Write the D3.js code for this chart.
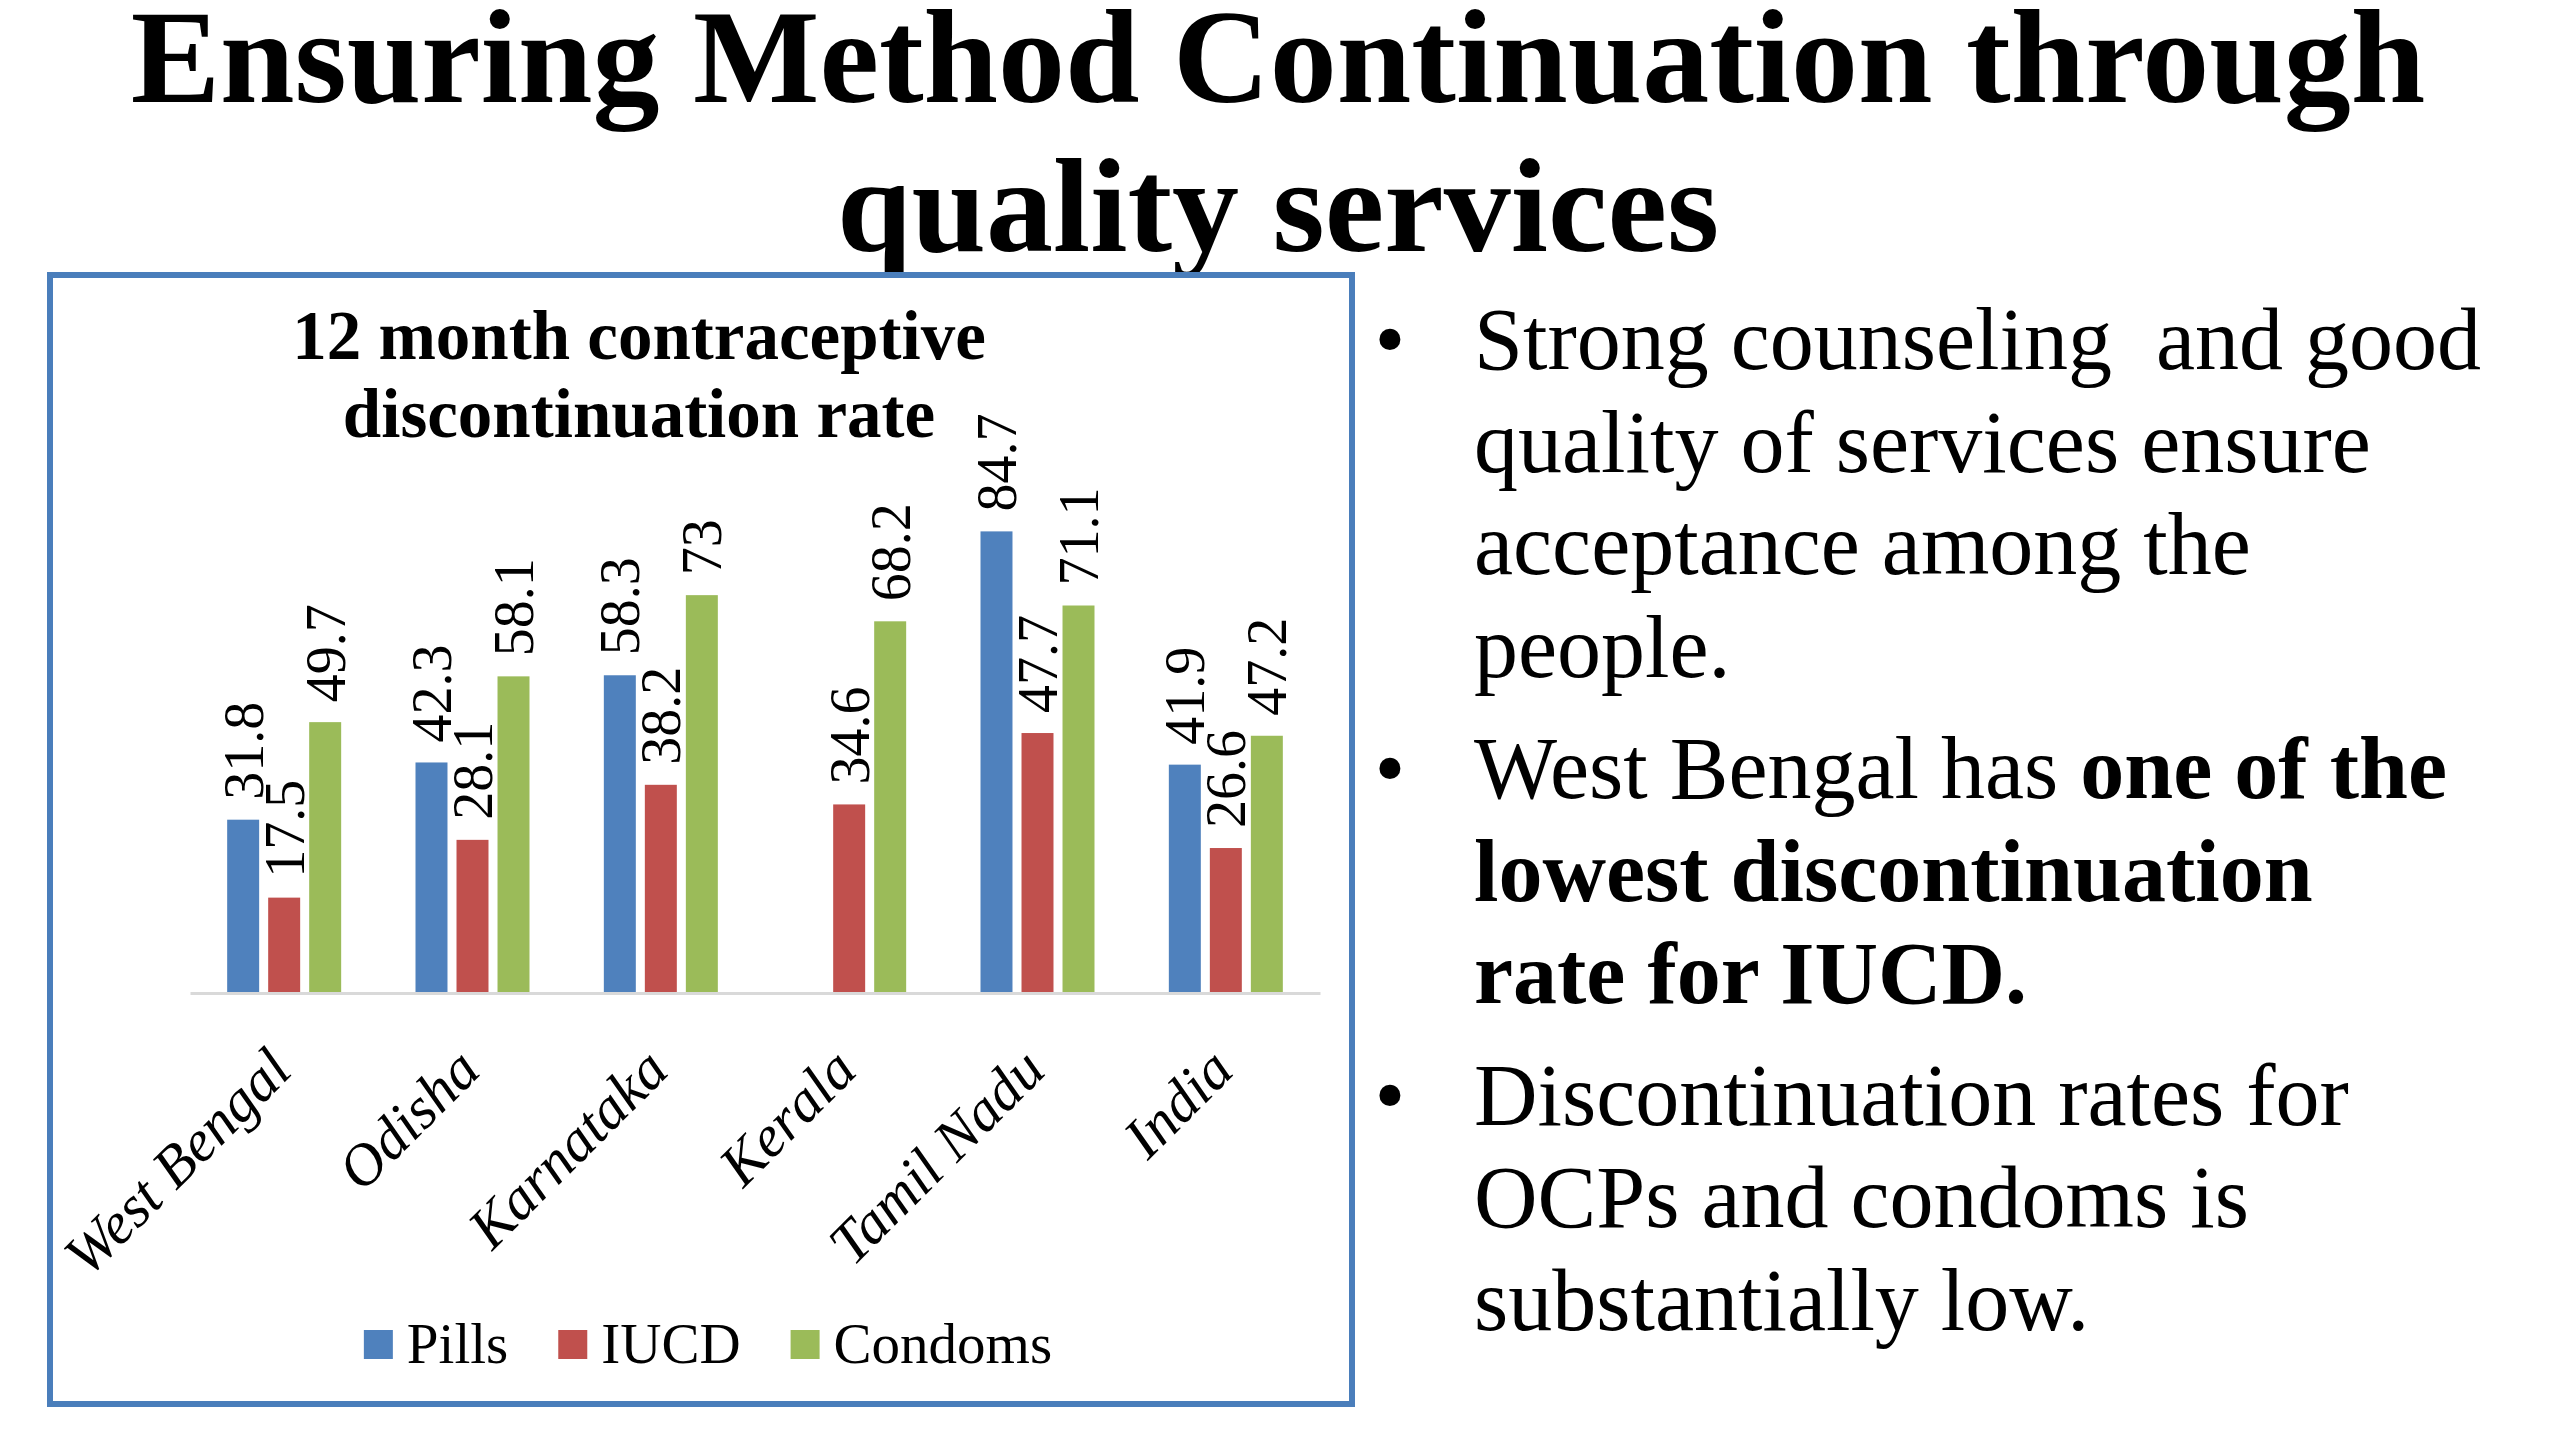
<!DOCTYPE html>
<html>
<head>
<meta charset="utf-8">
<script src="https://cdn.jsdelivr.net/npm/d3@7"></script>
<style>
  body { margin: 0; background: #fff; }
  svg { display: block; }
</style>
</head>
<body>
<svg id="slide"></svg>
<script>
// 12 month contraceptive discontinuation rate, by state
var categories = ['West Bengal', 'Odisha', 'Karnataka', 'Kerala', 'Tamil Nadu', 'India']
var seriesNames = ['Pills', 'IUCD', 'Condoms']
var pills = [31.8, 42.3, 58.3, null, 84.7, 41.9]
var iucd = [17.5, 28.1, 38.2, 34.6, 47.7, 26.6]
var condoms = [49.7, 58.1, 73, 68.2, 71.1, 47.2]
var seriesColors = ['#4F81BD', '#C0504D', '#9BBB59']

var titleLines = ['Ensuring Method Continuation through', 'quality services']
var chartTitleLines = ['12 month contraceptive', 'discontinuation rate']

// each bullet = lines, each line = [text, bold] pieces
var bullets = [
  [[['Strong counseling  and good', false]],
   [['quality of services ensure', false]],
   [['acceptance among the', false]],
   [['people.', false]]],
  [[['West Bengal has ', false], ['one of the', true]],
   [['lowest discontinuation', true]],
   [['rate for IUCD.', true]]],
  [[['Discontinuation rates for', false]],
   [['OCPs and condoms is', false]],
   [['substantially low.', false]]]
]

var width = 2560
var height = 1439
var serif = '"Liberation Serif", "Times New Roman", serif'

var svg = d3.select('#slide')
  .attr('width', width)
  .attr('height', height)

svg.append('rect')
  .attr('width', width)
  .attr('height', height)
  .attr('fill', '#fff')

// slide title
svg.selectAll('.title')
  .data(titleLines)
  .enter()
  .append('text')
    .classed('title', true)
    .attr('x', 1278)
    .attr('y', (d, i) => 102 + i * 149)
    .attr('text-anchor', 'middle')
    .style('font-family', serif)
    .style('font-weight', 'bold')
    .style('font-size', '134px')
    .attr('fill', '#000')
    .text(d => d)

// chart frame
svg.append('rect')
  .attr('x', 50)
  .attr('y', 275)
  .attr('width', 1302)
  .attr('height', 1129)
  .attr('fill', '#fff')
  .attr('stroke', '#4A7EBB')
  .attr('stroke-width', 6)

svg.selectAll('.chart-title')
  .data(chartTitleLines)
  .enter()
  .append('text')
    .classed('chart-title', true)
    .attr('x', 639)
    .attr('y', (d, i) => 359 + i * 78)
    .attr('text-anchor', 'middle')
    .style('font-family', serif)
    .style('font-weight', 'bold')
    .style('font-size', '69px')
    .text(d => d)

// scales
var baseY = 993
var x0 = d3.scaleBand()
  .domain(categories)
  .range([190, 1320])

var groupHalf = 57
var x1 = d3.scaleBand()
  .domain(seriesNames)
  .range([x0.bandwidth() / 2 - groupHalf, x0.bandwidth() / 2 + groupHalf])
  .paddingInner(0.22)

var y = d3.scaleLinear()
  .domain([0, 90])
  .range([baseY, baseY - 90 * 5.45])

var rows = categories.map((c, i) => ({
  cat: c,
  values: [pills[i], iucd[i], condoms[i]].map((v, j) => ({ series: seriesNames[j], value: v, color: seriesColors[j] }))
}))

var groups = svg.selectAll('.group')
  .data(rows)
  .enter()
  .append('g')
    .classed('group', true)
    .attr('transform', d => 'translate(' + x0(d.cat) + ',0)')

var bars = groups.selectAll('.bar')
  .data(d => d.values.filter(v => v.value != null))
  .enter()
  .append('g')
    .classed('bar', true)

bars.append('rect')
  .attr('x', d => x1(d.series))
  .attr('y', d => y(d.value))
  .attr('width', x1.bandwidth())
  .attr('height', d => baseY - y(d.value))
  .attr('fill', d => d.color)

bars.append('text')
  .attr('transform', d => 'translate(' + (x1(d.series) + x1.bandwidth() / 2) + ',' + (y(d.value) - 20) + ') rotate(-90)')
  .attr('dy', '0.35em')
  .style('font-family', serif)
  .style('font-size', '56px')
  .attr('fill', '#000')
  .text(d => d.value)

// category axis
var xAxis = d3.axisBottom(x0)
  .tickSize(0)
  .tickSizeOuter(0)

var axisG = svg.append('g')
  .attr('transform', 'translate(0,' + baseY + ')')
  .call(xAxis)

axisG.select('.domain')
  .attr('stroke', '#D9D9D9')
  .attr('stroke-width', 3)

axisG.selectAll('.tick text')
  .attr('y', 0)
  .attr('dy', 0)
  .attr('transform', 'translate(10,80) rotate(-45)')
  .attr('text-anchor', 'end')
  .attr('fill', '#000')
  .style('font-family', serif)
  .style('font-style', 'italic')
  .style('font-size', '59px')

// legend
var legend = svg.append('g')
var lx = 0
seriesNames.forEach((name, i) => {
  var item = legend.append('g').attr('transform', 'translate(' + lx + ',0)')
  item.append('rect')
    .attr('x', 0)
    .attr('y', -33)
    .attr('width', 29)
    .attr('height', 29)
    .attr('fill', seriesColors[i])
  var t = item.append('text')
    .attr('x', 43)
    .attr('y', 0)
    .style('font-family', serif)
    .style('font-size', '57px')
    .text(name)
  lx += 43 + t.node().getComputedTextLength() + 50
})
var legendW = lx - 50
legend.attr('transform', 'translate(' + (708 - legendW / 2) + ',1363)')

// bullet text on the right
var lineY = 369
bullets.forEach((b, bi) => {
  svg.append('text')
    .attr('x', 1390)
    .attr('y', lineY)
    .attr('text-anchor', 'middle')
    .style('font-family', serif)
    .style('font-size', '88px')
    .text('\u2022')
  b.forEach(line => {
    var t = svg.append('text')
      .attr('x', 1474)
      .attr('y', lineY)
      .style('font-family', serif)
      .style('font-size', '88px')
      .style('white-space', 'pre')
    line.forEach(seg => {
      t.append('tspan')
        .style('font-weight', seg[1] ? 'bold' : 'normal')
        .text(seg[0])
    })
    lineY += 102.5
  })
  lineY += 19
})
</script>
</body>
</html>
